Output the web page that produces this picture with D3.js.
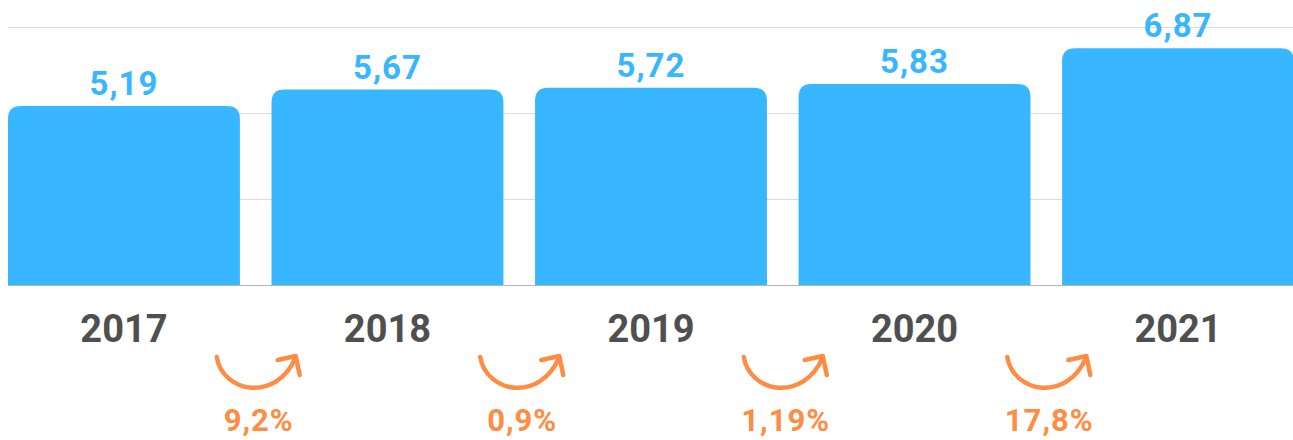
<!DOCTYPE html>
<html>
<head>
<meta charset="utf-8">
<script src="https://cdn.jsdelivr.net/npm/d3@7"></script>
<style>
  html, body { margin: 0; padding: 0; background: #fff; }
  svg { display: block; font-family: Roboto, "Open Sans", sans-serif; }
</style>
</head>
<body>
<svg width="1293" height="440"></svg>
<script>
// ---- Dados
const years = ['2017', '2018', '2019', '2020', '2021'];
const values = [5.19, 5.67, 5.72, 5.83, 6.87];
const changes = ['9,2%', '0,9%', '1,19%', '17,8%'];
const gridTicks = [0, 2.5, 5, 7.5];

const svg = d3.select('svg');
const blue = '#38b6ff';
const orange = '#fd8c45';
const fmt = v => d3.format('.2f')(v).replace('.', ',');

// ---- Escalas
const x = d3.scaleBand().domain(years).range([8, 1294]).paddingInner(0.12).paddingOuter(0);
const y = d3.scaleLinear().domain([0, 7.5]).range([285, 26.5]);

// ---- Grade
svg.append('g')
    .selectAll('line')
    .data(gridTicks)
    .join('line')
    .attr('x1', 8)
    .attr('x2', 1293)
    .attr('y1', d => Math.round(y(d)) + 0.5)
    .attr('y2', d => Math.round(y(d)) + 0.5)
    .attr('stroke', d => d === 0 ? '#b5b5b5' : '#dadada')
    .attr('stroke-width', 1);

// ---- Barras (cantos superiores arredondados)
const r = 13;
function topRounded(x0, y0, w, h) {
    return `M${x0},${y0 + h}V${y0 + r}Q${x0},${y0} ${x0 + r},${y0}` +
        `H${x0 + w - r}Q${x0 + w},${y0} ${x0 + w},${y0 + r}V${y0 + h}Z`;
}

svg.append('g')
    .selectAll('path')
    .data(years)
    .join('path')
    .attr('fill', blue)
    .attr('d', (d, i) => topRounded(x(d), y(values[i]), x.bandwidth(), y(0) - y(values[i])));

// ---- Rótulos dos valores
svg.append('g')
    .selectAll('text')
    .data(years)
    .join('text')
    .attr('x', d => x(d) + x.bandwidth() / 2)
    .attr('y', (d, i) => y(values[i]) - 11)
    .attr('text-anchor', 'middle')
    .attr('fill', blue)
    .attr('font-size', 33)
    .attr('font-weight', 700)
    .attr('letter-spacing', 1)
    .text((d, i) => fmt(values[i]));

// ---- Anos
svg.append('g')
    .selectAll('text')
    .data(years)
    .join('text')
    .attr('x', d => x(d) + x.bandwidth() / 2)
    .attr('y', 342)
    .attr('text-anchor', 'middle')
    .attr('fill', '#4f4f4f')
    .attr('font-size', 38)
    .attr('font-weight', 700)
    .text(d => d);

// ---- Setas de variação
const mids = changes.map((c, i) => ({
    label: c,
    cx: (x(years[i]) + x.bandwidth() + x(years[i + 1])) / 2 + 3
}));

const arrows = svg.append('g')
    .attr('fill', 'none')
    .attr('stroke', orange)
    .attr('stroke-width', 4.5)
    .attr('stroke-linecap', 'round')
    .attr('stroke-linejoin', 'round');

arrows.selectAll('path.curve')
    .data(mids)
    .join('path')
    .attr('class', 'curve')
    .attr('d', d => `M${d.cx - 42},357 C${d.cx - 36},393 ${d.cx + 18},403 ${d.cx + 37},357`);

arrows.selectAll('path.head')
    .data(mids)
    .join('path')
    .attr('class', 'head')
    .attr('d', d => `M${d.cx + 19},360 L${d.cx + 37},356 L${d.cx + 41},375`);

svg.append('g')
    .selectAll('text')
    .data(mids)
    .join('text')
    .attr('x', d => d.cx)
    .attr('y', 431)
    .attr('text-anchor', 'middle')
    .attr('fill', orange)
    .attr('font-size', 31)
    .attr('font-weight', 700)
    .attr('letter-spacing', 1)
    .text(d => d.label);
</script>
</body>
</html>
